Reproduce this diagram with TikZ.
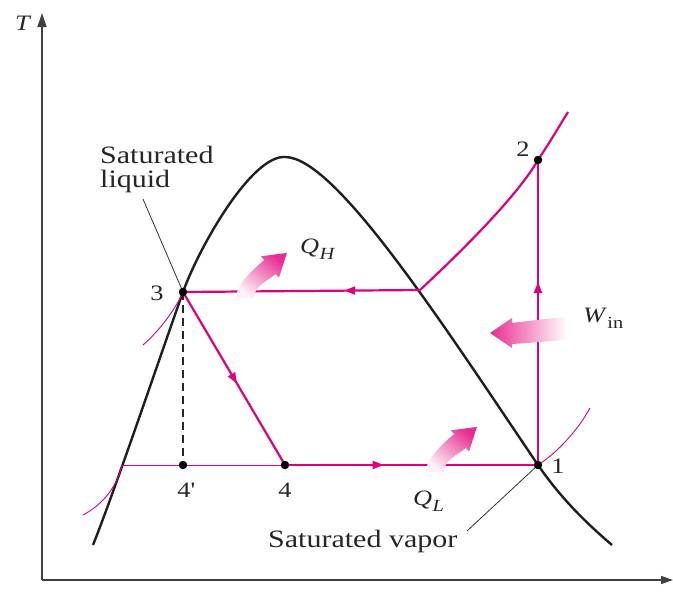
\documentclass[tikz,border=0pt]{standalone}
\usepackage{fontspec}
\setmainfont{Liberation Serif}[FakeStretch=1.2]
\usetikzlibrary{arrows.meta,decorations.markings}
\definecolor{cyc}{RGB}{226,0,122}
\definecolor{fat}{RGB}{232,45,145}
\newcommand{\symsub}[2]{#1\kern0.3pt\raisebox{-0.3em}{\fontsize{17}{17}\selectfont #2}}
\begin{document}
\begin{tikzpicture}[x=1pt,y=-1pt,
  axisline/.style={line width=1.3pt, black!75},
  dome/.style={line width=2.4pt, black!88},
  cycline/.style={line width=2.2pt, cyc},
  thinpink/.style={line width=0.9pt, cyc},
  pointer/.style={line width=0.8pt, black!80},
  dot/.style={circle, fill=black, inner sep=0pt, minimum size=8.5pt},
  lbl/.style={font=\fontsize{22}{24}\selectfont, inner sep=0pt, text=black!85},
  txt/.style={font=\fontsize{25}{24}\selectfont, inner sep=0pt, text=black!85},
  midarrow/.style={postaction={decorate, decoration={markings,
      mark=at position #1 with {\arrow{Triangle[length=11pt,width=8pt]}}}}},
  fatshade/.style={top color=fat, bottom color=fat!6, shading angle=-40}
]
\useasboundingbox (0,0) rectangle (673,603);

% axes
\coordinate (o) at (42,580);
\coordinate (ytop) at (42,13);
\coordinate (xend) at (673,580);
\draw[axisline, -{Triangle[length=14pt,width=9pt]}] (o) -- (ytop);
\draw[axisline, -{Triangle[length=12pt,width=8pt]}] (o) -- (xend);
\node[lbl, anchor=base west, font=\fontsize{22}{24}\selectfont\itshape] (tlab) at (15,30) {T};

% cycle points
\coordinate (c1) at (538,465);
\coordinate (c2) at (538,160);
\coordinate (c3) at (183,292);
\coordinate (c4) at (285,465);
\coordinate (c4p) at (183,465);
\coordinate (cx) at (420,290);
\coordinate (cl) at (122,465);

% saturation dome
\draw[dome] (93,545) .. controls (115,490) and (163,348) .. (c3)
  .. controls (200,245) and (252,155) .. (285,157)
  .. controls (335,157) and (440,320) .. (c1)
  .. controls (560,497) and (585,522) .. (612,545);

% thin isobar pieces
\draw[thinpink] (83,515) .. controls (100,506) and (116,490) .. (cl);
\draw[thinpink] (143,345) .. controls (160,330) and (175,310) .. (c3);
\draw[thinpink] (c1) .. controls (558,452) and (578,430) .. (590,408);
\draw[thinpink] (cl) -- (c4);

% dashed 3 - 4'
\draw[black!85, line width=1.2pt, dash pattern=on 8pt off 5pt] (c3) -- (c4p);

% cycle
\draw[cycline, midarrow=0.53] (c3) -- (c4);
\draw[cycline, midarrow=0.39] (c4) -- (c1);
\draw[cycline, midarrow=0.6] (c1) -- (c2);
\draw[cycline] (cx) .. controls (450,262) and (515,200) .. (c2) .. controls (550,142) and (560,125) .. (568,112);
\draw[cycline, midarrow=0.32] (cx) -- (c3);

% pointers
\coordinate (sl) at (143,199);
\coordinate (sv) at (467,531);
\draw[pointer] (sl) -- (c3);
\draw[pointer] (sv) -- (c1);

% dots
\node[dot] (d1) at (c1) {};
\node[dot] (d2) at (c2) {};
\node[dot] (d3) at (c3) {};
\node[dot] (d4) at (c4) {};
\node[dot] (d4p) at (c4p) {};

% point labels
\node[lbl] (l1) at (558,466) {1};
\node[lbl] (l2) at (523,149) {2};
\node[lbl] (l3) at (157,293) {3};
\node[lbl] (l4) at (285,490) {4};
\node[lbl] (l4p) at (186,490) {4\textquotesingle};

% texts
\node[txt, anchor=north west, align=left] (satliq) at (100,146) {Saturated\\liquid};
\node[txt, anchor=base west] (satvap) at (268,547) {Saturated vapor};

% heat / work arrows
\begin{scope}[shift={(245,298)}]
\shade[fatshade] (9,0) .. controls (9,-12) and (21.6,-16.4) .. (30.8,-24.1) -- (34,-20.3) -- (41.9,-45.1) -- (16,-41.7) -- (19.2,-37.9) .. controls (10,-30.2) and (-9,-14) .. (-9,0) -- cycle;
\end{scope}
\begin{scope}[shift={(435,472)}]
\shade[fatshade] (9,0) .. controls (9,-12) and (21.6,-16.4) .. (30.8,-24.1) -- (34,-20.3) -- (41.9,-45.1) -- (16,-41.7) -- (19.2,-37.9) .. controls (10,-30.2) and (-9,-14) .. (-9,0) -- cycle;
\end{scope}
\shade[left color=fat, right color=white] (490,333) -- (512,318) -- (512,323) .. controls (530,321) and (550,318) .. (567,317) -- (567,340) .. controls (550,341) and (530,343) .. (512,344) -- (512,348) -- cycle;

\node[lbl, anchor=base west] (qh) at (300,253) {\symsub{\textit{Q}}{\textit{H}}};
\node[lbl, anchor=base west] (ql) at (413,505) {\symsub{\textit{Q}}{\textit{L}}};
\node[lbl, anchor=base west] (win) at (583,322) {\symsub{\textit{W}}{in}};
\end{tikzpicture}
\end{document}
